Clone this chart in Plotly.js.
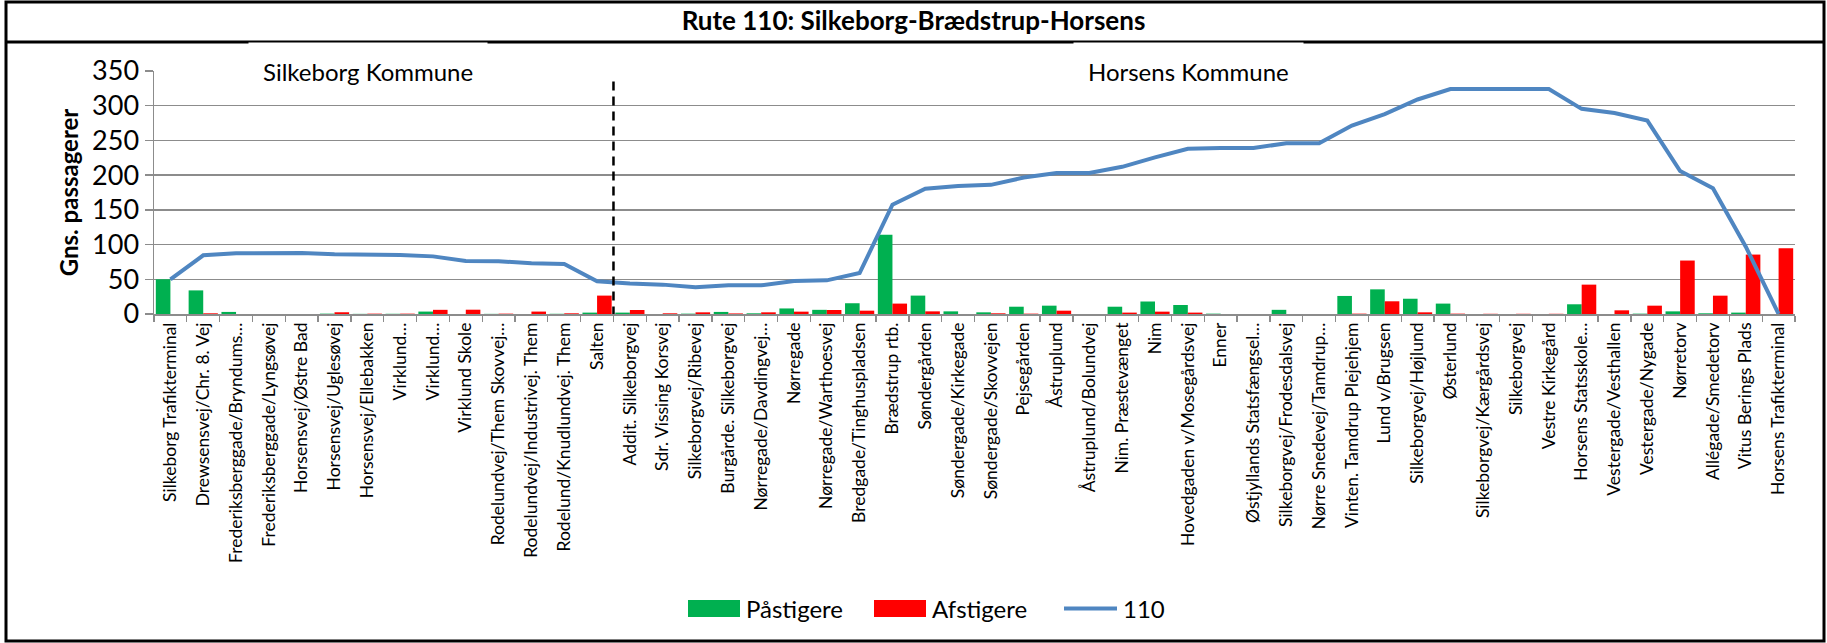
<!DOCTYPE html>
<html><head><meta charset="utf-8">
<script src="https://cdn.plot.ly/plotly-3.0.1.min.js"></script>
<style>html,body{margin:0;padding:0;background:#fff}#chart{width:1827px;height:643px}</style>
</head><body><div id="chart"></div>
<script>
const stops = [
"Silkeborg Trafikterminal","Drewsensvej/Chr. 8. Vej","Frederiksberggade/Bryndums…","Frederiksberggade/Lyngsøvej",
"Horsensvej/Østre Bad","Horsensvej/Uglesøvej","Horsensvej/Ellebakken","Virklund…","Virklund…","Virklund Skole",
"Rodelundvej/Them Skovvej…","Rodelundvej/Industrivej. Them","Rodelund/Knudlundvej. Them","Salten",
"Addit. Silkeborgvej","Sdr. Vissing Korsvej","Silkeborgvej/Ribevej","Burgårde. Silkeborgvej","Nørregade/Davdingvej…",
"Nørregade","Nørregade/Warthoesvej","Bredgade/Tinghuspladsen","Brædstrup rtb.","Søndergården","Søndergade/Kirkegade",
"Søndergade/Skovvejen","Pejsegården","Åstruplund","Åstruplund/Bolundvej","Nim. Præstevænget","Nim",
"Hovedgaden v/Mosegårdsvej","Enner","Østjyllands Statsfængsel…","Silkeborgvej/Frodesdalsvej","Nørre Snedevej/Tamdrup…",
"Vinten. Tamdrup Plejehjem","Lund v/Brugsen","Silkeborgvej/Højlund","Østerlund","Silkeborgvej/Kærgårdsvej",
"Silkeborgvej","Vestre Kirkegård","Horsens Statsskole…","Vestergade/Vesthallen","Vestergade/Nygade","Nørretorv",
"Allégade/Smedetorv","Vitus Berings Plads","Horsens Trafikterminal"];
const paastigere = [50,34,3,0,0,0.5,0.2,0.3,3.5,0,0.2,0,0.3,2,2,0,0.5,3,1,8,6,15.5,114,26.5,3.8,2.4,10.5,12,0,10.5,18,13,0.5,0,6,0,26,35.5,22,15,0,0,0,14,0,0.5,3.8,1,2,0];
const afstigere = [0,1,0,0,0,2.5,0.5,0.5,6,6.2,0.5,3.5,1,26.5,5.8,1,2.4,0.8,2.4,3.4,5.8,4.8,15,3.8,0,1,0.5,4.8,0,2,3.4,2,0,0,0,0,0.5,18.3,2.4,0.5,0.3,0.3,0.3,42.3,5.3,12,77,26.4,85.6,94.7];
const passagerer = [50,84.5,87.5,88,88,86,86,85,83,76.5,76,73,72,47,44,42.3,38.5,41.4,41.4,47.5,48.5,59,157.5,180.5,184.5,186,196.5,203,203,212,225.5,238,239,239,246,246,271.5,288,309,324,324,324,324,295.5,289.5,278.5,206,181,97,0];
const kommuner = ["Silkeborg Kommune","Horsens Kommune"];
const legendNames = ["Påstigere","Afstigere","110"];

const W=1827,H=643,L=154,R=1795,T=71,B=314;
const px = x => (x-L)/(R-L);
const py = y => (B-y)/(B-T);
const seen = {};
const cats = stops.map(s => { const n = seen[s]||0; seen[s]=n+1; return s + '\u200b'.repeat(n); });
const FONT = 'Lato, "Open Sans", sans-serif';
const GREEN='#00B050', RED='#FF0000', BLUE='#4F86C1', GRID='#8C8C8C';

const data = [
 {type:'bar', x:cats, y:paastigere, name:legendNames[0], marker:{color:GREEN}},
 {type:'bar', x:cats, y:afstigere, name:legendNames[1], marker:{color:RED}},
 {type:'scatter', mode:'lines', x:cats, y:passagerer, name:legendNames[2], line:{color:BLUE, width:4}}
];

const shapes = [
 {type:'rect', xref:'paper', yref:'paper', x0:px(6), x1:px(1824), y0:py(641), y1:py(2), line:{color:'#000', width:3}},
 {type:'line', xref:'paper', yref:'paper', x0:px(6), x1:px(1824), y0:py(42), y1:py(42), line:{color:'#000', width:3}},
 {type:'line', xref:'x', yref:'y', x0:13.5, x1:13.5, y0:-2, y1:343, line:{color:'#000', width:2.5, dash:'9px,6px'}},
 {type:'rect', xref:'paper', yref:'paper', x0:px(688), x1:px(740), y0:py(617), y1:py(600), fillcolor:GREEN, line:{width:0}},
 {type:'rect', xref:'paper', yref:'paper', x0:px(874), x1:px(926), y0:py(617), y1:py(600), fillcolor:RED, line:{width:0}},
 {type:'line', xref:'paper', yref:'paper', x0:px(1064), x1:px(1117), y0:py(608.5), y1:py(608.5), line:{color:BLUE, width:4}}
];

const annotations = [
 {xref:'paper', yref:'y', x:px(368), y:350, xanchor:'center', yanchor:'middle', text:kommuner[0], showarrow:false, bgcolor:'#fff', borderpad:14, font:{family:FONT,size:24,color:'#000'}},
 {xref:'paper', yref:'y', x:px(1188), y:350, xanchor:'center', yanchor:'middle', text:kommuner[1], showarrow:false, bgcolor:'#fff', borderpad:14, font:{family:FONT,size:24,color:'#000'}},
 {xref:'paper', yref:'paper', x:px(744), y:py(608.5), xanchor:'left', yanchor:'middle', text:legendNames[0], showarrow:false, font:{family:FONT,size:24,color:'#000'}},
 {xref:'paper', yref:'paper', x:px(930), y:py(608.5), xanchor:'left', yanchor:'middle', text:legendNames[1], showarrow:false, font:{family:FONT,size:24,color:'#000'}},
 {xref:'paper', yref:'paper', x:px(1121), y:py(608.5), xanchor:'left', yanchor:'middle', text:legendNames[2], showarrow:false, font:{family:FONT,size:24,color:'#000'}}
];

const layout = {
 width:W, height:H,
 margin:{l:L, r:W-R, t:T, b:H-B},
 paper_bgcolor:'#fff', plot_bgcolor:'#fff',
 title:{text:'Rute 110: Silkeborg-Brædstrup-Horsens', font:{family:FONT, size:26, color:'#000', weight:'bold'}, x:0.5, xref:'container', y:1-21/H, yref:'container', yanchor:'middle'},
 showlegend:false,
 barmode:'group', bargap:0.11, bargroupgap:0,
 xaxis:{type:'category', range:[-0.5, stops.length-0.5], tickangle:-90, tickfont:{family:FONT,size:17.5,color:'#000'},
   ticks:'outside', tickson:'boundaries', ticklen:6, tickcolor:GRID, tickwidth:1.3,
   showline:true, linecolor:GRID, linewidth:1.5, showgrid:false, fixedrange:true},
 yaxis:{range:[0,350], tick0:0, dtick:50, showgrid:true, gridcolor:GRID, gridwidth:1.3, zeroline:false,
   ticks:'outside', ticklen:8, tickcolor:GRID, tickwidth:1.3, showline:true, linecolor:GRID, linewidth:1.5,
   tickfont:{family:FONT,size:27,color:'#000'},
   title:{text:'Gns. passagerer', font:{family:FONT,size:24,color:'#000',weight:'bold'}, standoff:6}},
 shapes:shapes, annotations:annotations
};
Plotly.newPlot('chart', data, layout, {displayModeBar:false, staticPlot:true});
</script></body></html>
